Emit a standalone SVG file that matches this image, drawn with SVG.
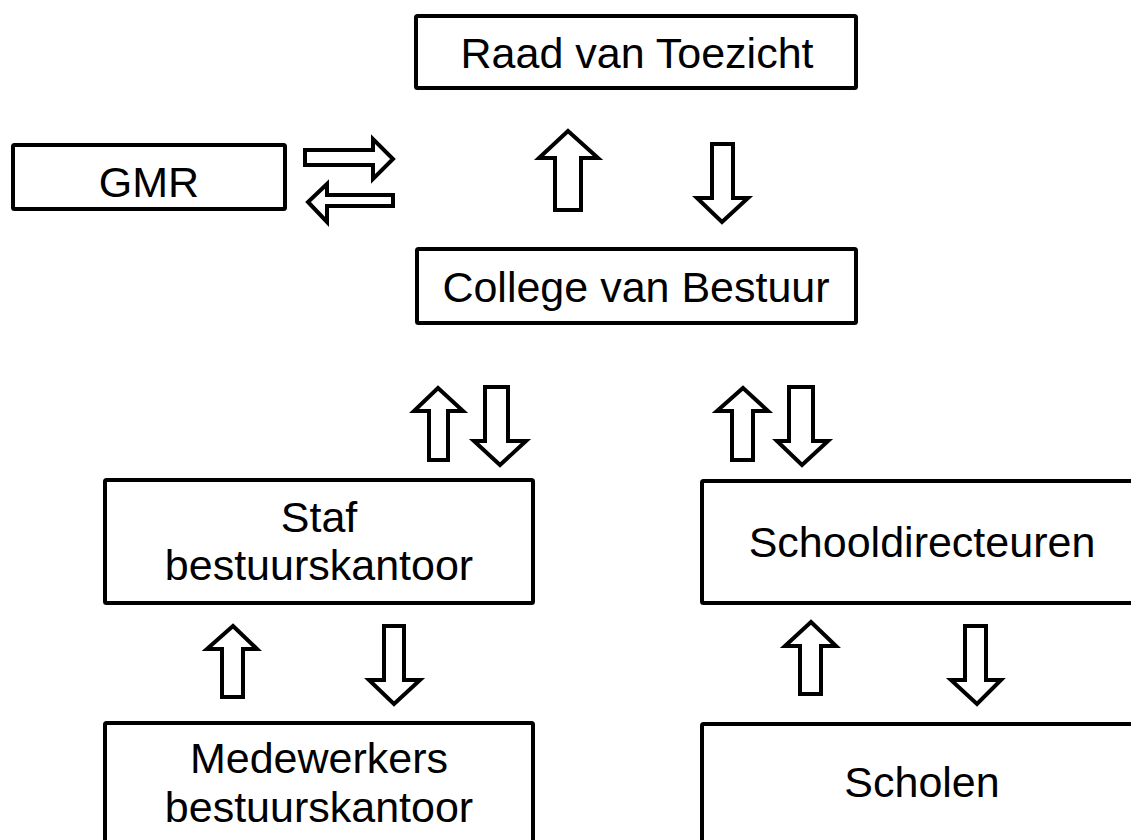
<svg xmlns="http://www.w3.org/2000/svg" width="1131" height="840" viewBox="0 0 1131 840">
<style>
.box{fill:#fff;stroke:#000;stroke-width:4;stroke-linejoin:round}
.arr{fill:#fff;stroke:#000;stroke-width:4;stroke-linejoin:miter}
.t{font-family:"Liberation Sans",Arial,sans-serif;font-size:43px;fill:#000;text-anchor:middle}
</style>
<rect width="1131" height="840" fill="#fff"/>
<g id="raad"><rect class="box" x="416" y="16" width="440" height="72" rx="1.5"/><text class="t" x="637" y="68">Raad van Toezicht</text></g>
<g id="gmr"><rect class="box" x="13" y="145" width="272" height="64" rx="1.5"/><text class="t" x="149" y="197">GMR</text></g>
<g id="cvb"><rect class="box" x="417" y="249" width="439" height="74" rx="1.5"/><text class="t" x="636" y="302">College van Bestuur</text></g>
<g id="staf"><rect class="box" x="105" y="480" width="428" height="123" rx="1.5"/><text class="t" x="319" y="532">Staf</text><text class="t" x="319" y="580">bestuurskantoor</text></g>
<g id="medewerkers"><rect class="box" x="105" y="723" width="428" height="130" rx="1.5"/><text class="t" x="319" y="773">Medewerkers</text><text class="t" x="319" y="822">bestuurskantoor</text></g>
<g id="schooldirecteuren"><rect class="box" x="702" y="481" width="440" height="122" rx="1.5"/><text class="t" x="922" y="557">Schooldirecteuren</text></g>
<g id="scholen"><rect class="box" x="702" y="724" width="440" height="130" rx="1.5"/><text class="t" x="922" y="797">Scholen</text></g>
<g id="connectors">
<polygon class="arr" points="305,150 373,150 373,139 393,159 373,179 373,165 305,165"/>
<polygon class="arr" points="393,195 327,195 327,184 308,202 327,222 327,206 393,206"/>
<polygon class="arr" points="568,131 598,158 581,158 581,210 555,210 555,158 539,158"/>
<polygon class="arr" points="712,144 733,144 733,198 748,198 722,222 697,198 712,198"/>
<polygon class="arr" points="438,388 463,411 448,411 448,460 429,460 429,411 414,411"/>
<polygon class="arr" points="485,387 508,387 508,441 526,441 500,465 474,441 485,441"/>
<polygon class="arr" points="743,388 768,411 753,411 753,460 732,460 732,411 717,411"/>
<polygon class="arr" points="789,387 813,387 813,441 828,441 802,465 777,441 789,441"/>
<polygon class="arr" points="233,626 257,649 243,649 243,697 222,697 222,649 207,649"/>
<polygon class="arr" points="384,626 404,626 404,680 420,680 394,704 369,680 384,680"/>
<polygon class="arr" points="811,622 836,646 821,646 821,694 800,694 800,646 785,646"/>
<polygon class="arr" points="965,626 986,626 986,680 1001,680 977,704 951,680 965,680"/>
</g>
</svg>
